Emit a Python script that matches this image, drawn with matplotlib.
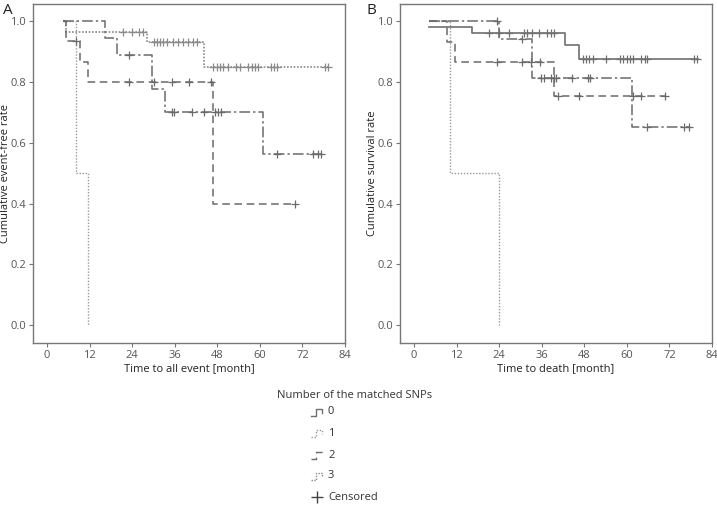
import numpy as np
import matplotlib
matplotlib.use("Agg")
import matplotlib.pyplot as plt

plt.rcParams['font.family'] = ['Open Sans', 'DejaVu Sans']

# ---------------- Panel A: time to all event ----------------
A_fine_t = [4.4, 8.2, 11.5]
A_fine_s = [1.0, 0.5, 0.0]
A_fine_c = []

A_dot_t = [4.4, 5.4, 28.1, 44.2, 79.3]
A_dot_s = [1.0, 0.964, 0.932, 0.85, 0.85]
A_dot_c = [21.3, 23.9, 26.0, 27.0, 30.0, 30.9, 31.9, 32.8, 33.7, 35.6, 37.0, 38.2,
           39.8, 41.1, 42.2, 46.9, 47.8, 48.8, 49.5, 51.1, 53.3, 54.4, 56.7, 57.7,
           58.6, 59.6, 63.0, 64.0, 64.9, 78.3, 79.3]

A_dd_t = [4.4, 16.4, 19.8, 29.5, 33.3, 60.8, 77.1]
A_dd_s = [1.0, 0.944, 0.889, 0.778, 0.70, 0.5625, 0.5625]
A_dd_c = [23.2, 35.1, 35.8, 40.8, 44.1, 47.4, 48.3, 48.9, 64.9, 75.1, 76.5, 77.1]

A_dash_t = [4.4, 5.3, 9.3, 11.5, 46.9, 69.9]
A_dash_s = [1.0, 0.933, 0.867, 0.80, 0.40, 0.40]
A_dash_c = [8.2, 23.2, 30.0, 35.1, 40.1, 46.2, 69.9]

# ---------------- Panel B: time to death ----------------
B_fine_t = [4.3, 10.1, 23.9]
B_fine_s = [1.0, 0.5, 0.0]
B_fine_c = []

B_solid_t = [4.3, 16.3, 42.5, 46.6, 80.0]
B_solid_s = [0.981, 0.96, 0.92, 0.876, 0.876]
B_solid_c = [21.0, 23.9, 26.7, 31.0, 31.9, 33.1, 35.2, 37.6, 38.5, 39.5, 47.6, 48.5,
             49.4, 50.4, 54.2, 58.0, 58.9, 59.9, 60.8, 61.8, 64.1, 65.1, 65.8, 78.8, 79.7]

B_dd_t = [4.3, 23.9, 33.3, 61.5, 77.8]
B_dd_s = [1.0, 0.942, 0.814, 0.651, 0.651]
B_dd_c = [23.4, 30.5, 35.7, 36.5, 38.5, 39.3, 40.0, 44.4, 49.0, 49.7, 65.8, 76.0, 77.4]

B_dash_t = [4.3, 9.2, 11.6, 39.5, 70.7]
B_dash_s = [1.0, 0.931, 0.866, 0.753, 0.753]
B_dash_c = [23.4, 30.5, 32.9, 35.5, 40.6, 46.6, 61.8, 63.9, 70.7]

x_ticks = [0, 12, 24, 36, 48, 60, 72, 84]
y_ticks = [0.0, 0.2, 0.4, 0.6, 0.8, 1.0]
legend_groups = ["0", "1", "2", "3"]

STY = {
    "fine": dict(color="#9a9a9a", lw=1.0, ls=(0, (1, 1.2))),
    "dot": dict(color="#8a8a8a", lw=1.2, ls=(0, (1, 1))),
    "dd": dict(color="#6a6a6a", lw=1.1, ls=(0, (7, 2, 1.5, 2))),
    "dash": dict(color="#6a6a6a", lw=1.1, ls=(0, (5, 3))),
    "solid": dict(color="#707070", lw=1.2, ls="-"),
}

fig = plt.figure(figsize=(7.17, 5.05), dpi=100)
axA = fig.add_axes([33/717, 1-343/505, (345-33)/717, (343-4)/505])
axB = fig.add_axes([400/717, 1-343/505, (712-400)/717, (343-4)/505])


def km(ax, t, s, c, key):
    st = STY[key]
    ax.step(t, s, where="post", color=st["color"], lw=st["lw"], linestyle=st["ls"])
    if c:
        t_arr = np.array(t)
        s_arr = np.array(s)
        idx = np.searchsorted(t_arr, np.array(c), side="right") - 1
        ax.plot(c, s_arr[idx], linestyle="none", marker="+", ms=6, mew=0.9,
                color=st["color"])


km(axA, A_fine_t, A_fine_s, A_fine_c, "fine")
km(axA, A_dot_t, A_dot_s, A_dot_c, "dot")
km(axA, A_dd_t, A_dd_s, A_dd_c, "dd")
km(axA, A_dash_t, A_dash_s, A_dash_c, "dash")

km(axB, B_fine_t, B_fine_s, B_fine_c, "fine")
km(axB, B_solid_t, B_solid_s, B_solid_c, "solid")
km(axB, B_dd_t, B_dd_s, B_dd_c, "dd")
km(axB, B_dash_t, B_dash_s, B_dash_c, "dash")

for ax, xl, yl in [(axA, "Time to all event [month]", "Cumulative event-free rate"),
                   (axB, "Time to death [month]", "Cumulative survival rate")]:
    ax.set_xlim(-4, 84)
    ax.set_ylim(-0.058, 1.056)
    ax.set_xticks(x_ticks)
    ax.set_yticks(y_ticks)
    ax.set_yticklabels([f"{v:.1f}" for v in y_ticks])
    ax.tick_params(length=3, width=0.8, color="#777777", labelcolor="#555555",
                   labelsize=8, pad=2)
    for sp in ax.spines.values():
        sp.set_color("#777777")
        sp.set_linewidth(1.0)
    ax.set_xlabel(xl, fontsize=8, color="#222222", va="top")
    ax.set_ylabel(yl, fontsize=8, color="#222222", va="center")
    ax.yaxis.set_label_coords(-0.087, 0.5)
    ax.xaxis.set_label_coords(0.5, -0.06)

fig.text(3/717, 1-10/505, "A", fontsize=11, va="center", ha="left", color="#222222")
fig.text(366/717, 1-10/505, "B", fontsize=11, va="center", ha="left", color="#222222")

# ---------------- legend ----------------
lg = fig.add_axes([0, 0, 1, 1])
lg.set_xlim(0, 717)
lg.set_ylim(505, 0)
lg.axis("off")
lg.text(277, 396, "Number of the matched SNPs", fontsize=8, va="center", ha="left",
        color="#333333")
leg_styles = ["solid", "fine", "dash", "dot"]
leg_rows = [412, 433, 455, 476]
for lab, key, yy in zip(legend_groups, leg_styles, leg_rows):
    st = STY[key]
    lg.plot([311, 316, 316, 322, 322], [yy + 4, yy + 4, yy - 3, yy - 3, yy + 1],
            color=st["color"], lw=1.0, linestyle=st["ls"])
    lg.text(328, yy, lab, fontsize=8, va="center", ha="left", color="#333333")
lg.plot([317], [497], marker="+", ms=9, mew=1.0, color="#444444", linestyle="none")
lg.text(328, 497, "Censored", fontsize=8, va="center", ha="left", color="#333333")

fig.savefig("out.png", dpi=100)
